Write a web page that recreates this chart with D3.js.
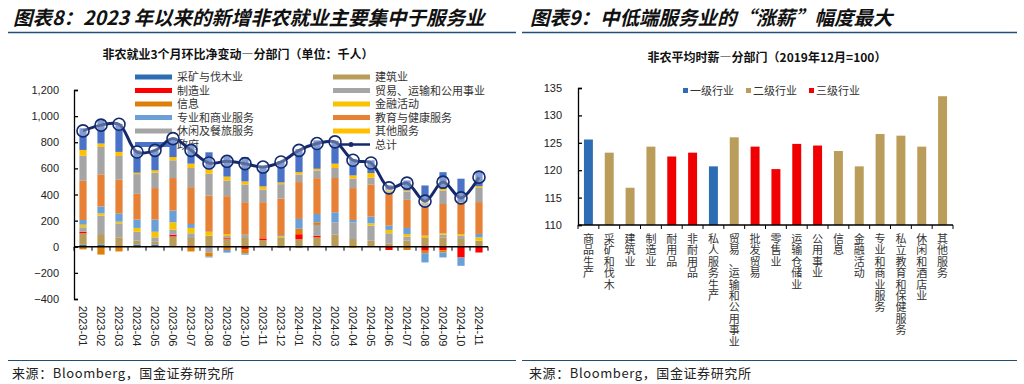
<!DOCTYPE html>
<html lang="zh">
<head>
<meta charset="utf-8">
<style>
body { margin: 0; background: #fff; }
svg { display: block; font-family: "Noto Sans CJK SC", "Liberation Sans", sans-serif; }
.num { font-family: "Liberation Sans", Arial, sans-serif; font-size: 11px; fill: #222; }
.head { font-size: 19.5px; font-weight: bold; font-style: italic; fill: #111; }
.ctitle { font-size: 12px; font-weight: bold; fill: #111; }
.leg { font-size: 11px; fill: #333; }
.cat { font-size: 11px; fill: #333; }
.src { font-size: 13px; fill: #222; letter-spacing: 0.6px; }
</style>
</head>
<body>
<svg id="chart" width="1024" height="384"></svg>
<script src="https://cdn.jsdelivr.net/npm/d3@7/dist/d3.min.js"></script>
<script>

// ---- left chart data: 3-month net change, thousands ----
var months = ["2023-01","2023-02","2023-03","2023-04","2023-05","2023-06","2023-07","2023-08",
  "2023-09","2023-10","2023-11","2023-12","2024-01","2024-02","2024-03","2024-04","2024-05",
  "2024-06","2024-07","2024-08","2024-09","2024-10","2024-11"];
var mining        = [15,15,0,15,15,0,0,0,0,0,0,0,0,0,0,0,0,0,0,0,0,0,0];
var construction  = [88,82,72,31,23,79,67,85,62,67,51,67,58,72,92,59,46,26,46,72,72,59,46];
var manufacturing = [12,0,0,0,0,13,0,0,8,-18,13,0,38,13,0,0,0,-25,0,-30,-26,-82,-44];
var trade         = [34,141,107,69,34,39,36,-45,12,25,0,-10,-10,82,95,128,116,77,31,0,20,25,0];
var information   = [-20,-60,-36,-5,0,0,-36,-30,-25,-33,0,0,42,20,0,0,0,0,-25,-20,-18,0,0];
var financial     = [20,18,13,29,43,56,41,30,15,0,0,12,0,0,0,-10,17,26,20,13,10,13,26];
var professional  = [36,52,64,64,93,90,30,-7,-20,-10,0,10,75,64,77,18,52,33,47,-70,-38,-64,26];
var eduHealth     = [300,246,257,197,241,249,282,277,290,249,277,280,282,274,262,244,246,244,215,218,225,231,244];
var leisure       = [192,210,182,151,118,136,147,167,120,136,97,110,58,59,77,72,51,20,64,38,103,0,108];
var otherServ     = [44,26,31,11,18,25,33,33,30,23,24,13,18,13,33,25,36,10,8,13,13,13,13];
var government    = [166,184,215,171,153,140,141,131,160,187,148,164,177,218,175,126,98,35,77,115,128,180,110];
var total         = [887,931,938,725,738,828,738,641,654,636,610,649,738,790,803,662,641,451,487,349,495,374,533];
var yTicksLeft = [-400,-200,0,200,400,600,800,1000,1200];

// ---- right chart data: avg hourly earnings index (2019-12 = 100) ----
var sectors = ["商品生产","采矿和伐木","建筑业","制造业","耐用品","非耐用品","私人服务生产",
  "贸易、运输和公用事业","批发贸易","零售业","运输仓储业","公用事业","信息","金融活动",
  "专业和商业服务","私立教育和保健服务","休闲和酒店业","其他服务"];
var wageIndex = [125.6,123.2,116.8,124.3,122.5,123.2,120.7,126.0,124.3,120.2,124.8,124.5,123.5,120.7,126.6,126.3,124.3,133.5];
var sectorLevel = [1,2,2,2,3,3,1,2,3,3,3,3,2,2,2,2,2,2];
var levelNames = ["一级行业","二级行业","三级行业"];
var yTicksRight = [110,115,120,125,130,135];

var series = [
  {key: "mining", name: "采矿与伐木业", color: "#2e6db4", values: mining},
  {key: "construction", name: "建筑业", color: "#b99b5a", values: construction},
  {key: "manufacturing", name: "制造业", color: "#ff0000", values: manufacturing},
  {key: "trade", name: "贸易、运输和公用事业", color: "#a6a6a6", values: trade},
  {key: "information", name: "信息", color: "#de7f0c", values: information},
  {key: "financial", name: "金融活动", color: "#f7c300", values: financial},
  {key: "professional", name: "专业和商业服务", color: "#6a9fd8", values: professional},
  {key: "eduHealth", name: "教育与健康服务", color: "#e68136", values: eduHealth},
  {key: "leisure", name: "休闲及餐旅服务", color: "#a5a5a5", values: leisure},
  {key: "otherServ", name: "其他服务", color: "#ffc000", values: otherServ},
  {key: "government", name: "政府", color: "#4a72c6", values: government}
];
var lineColor = "#142a6c";
var levelColors = ["#2e6db4", "#ba9d5b", "#f00000"];

var svg = d3.select("#chart");

// ---- page frame: headers, rules, sources ----
svg.append("text").attr("class", "head").attr("x", 13).attr("y", 25)
  .text("图表8：2023 年以来的新增非农就业主要集中于服务业");
svg.append("text").attr("class", "head").attr("x", 530).attr("y", 25)
  .text("图表9：中低端服务业的“涨薪”幅度最大");
[[8, 516], [522, 1017]].forEach(function(r) {
  svg.append("line").attr("x1", r[0]).attr("x2", r[1]).attr("y1", 32.5).attr("y2", 32.5)
    .attr("stroke", "#1f4e79").attr("stroke-width", 1.6);
  svg.append("line").attr("x1", r[0]).attr("x2", r[1]).attr("y1", 360.5).attr("y2", 360.5)
    .attr("stroke", "#1f4e79").attr("stroke-width", 1.2);
});
svg.append("text").attr("class", "src").attr("x", 12).attr("y", 378).text("来源：Bloomberg，国金证券研究所");
svg.append("text").attr("class", "src").attr("x", 529).attr("y", 378).text("来源：Bloomberg，国金证券研究所");

// ================= left chart =================
function drawLeft() {
  var g = svg.append("g");
  var x = d3.scaleBand().domain(months).range([74, 488]).paddingInner(0.6).paddingOuter(0.3);
  var y = d3.scaleLinear().domain([-400, 1200]).range([299, 90]);

  g.append("text").attr("class", "ctitle").attr("x", 238).attr("y", 59)
    .attr("text-anchor", "middle").text("非农就业3个月环比净变动—分部门（单位：千人）");

  // legend sits under the bars
  var leftCol = ["mining", "manufacturing", "information", "professional", "leisure", "government"];
  var rightCol = ["construction", "trade", "financial", "eduHealth", "otherServ"];
  var lg = g.append("g");
  function legendRow(s, lx, ly) {
    lg.append("rect").attr("x", lx).attr("y", ly - 2.5).attr("width", 37).attr("height", 5).attr("fill", s.color);
    lg.append("text").attr("class", "leg").attr("x", lx + 42).attr("y", ly + 4).text(s.name);
  }
  leftCol.forEach(function(k, i) {
    legendRow(series.find(function(s) { return s.key === k; }), 135, 77 + i * 13.5);
  });
  rightCol.forEach(function(k, i) {
    legendRow(series.find(function(s) { return s.key === k; }), 333, 77 + i * 13.5);
  });
  lg.append("line").attr("x1", 333).attr("x2", 370).attr("y1", 144.5).attr("y2", 144.5)
    .attr("stroke", lineColor).attr("stroke-width", 2.5);
  lg.append("circle").attr("cx", 351).attr("cy", 144.5).attr("r", 2.5).attr("fill", lineColor);
  lg.append("text").attr("class", "leg").attr("x", 375).attr("y", 148.5).text("总计");

  // stacked bars
  var rows = months.map(function(m, i) {
    var r = {month: m};
    series.forEach(function(s) { r[s.key] = s.values[i]; });
    return r;
  });
  var stack = d3.stack().keys(series.map(function(s) { return s.key; }))
    .offset(d3.stackOffsetDiverging)(rows);

  g.append("g").selectAll("g").data(stack).join("g")
    .attr("fill", function(d, i) { return series[i].color; })
    .selectAll("rect").data(function(d) { return d; }).join("rect")
    .attr("x", function(d) { return x(d.data.month); })
    .attr("width", x.bandwidth())
    .attr("y", function(d) { return y(Math.max(d[0], d[1])); })
    .attr("height", function(d) { return Math.abs(y(d[0]) - y(d[1])); });

  // axes
  var yAxis = d3.axisLeft(y).tickValues(yTicksLeft).tickFormat(d3.format(","))
    .tickSizeInner(-4).tickSizeOuter(-4).tickPadding(15);
  var ya = g.append("g").attr("transform", "translate(74,0)").call(yAxis);
  ya.selectAll("text").attr("class", "num");
  ya.selectAll("path,line").attr("stroke", "#000").attr("stroke-width", 1.3);

  var y0 = y(0);
  g.append("line").attr("x1", 74).attr("x2", 488).attr("y1", y0).attr("y2", y0)
    .attr("stroke", "#000").attr("stroke-width", 1.3);
  var step = x.step();
  g.append("g").selectAll("line").data(d3.range(months.length + 1)).join("line")
    .attr("x1", function(i) { return 74 + i * step; })
    .attr("x2", function(i) { return 74 + i * step; })
    .attr("y1", y0).attr("y2", y0 + 4).attr("stroke", "#000");

  g.append("g").selectAll("text").data(months).join("text")
    .attr("class", "num")
    .attr("transform", function(d) {
      return "translate(" + (x(d) + x.bandwidth() / 2 - 4) + ",306) rotate(90)";
    })
    .text(function(d) { return d; });

  // total line
  var cx = function(d, i) { return x(months[i]) + x.bandwidth() / 2; };
  var line = d3.line().x(cx).y(function(d) { return y(d); }).curve(d3.curveCatmullRom.alpha(0.5));
  g.append("path").datum(total).attr("d", line)
    .attr("fill", "none").attr("stroke", lineColor).attr("stroke-width", 3);
  g.append("g").selectAll("circle").data(total).join("circle")
    .attr("cx", cx).attr("cy", function(d) { return y(d); }).attr("r", 6)
    .attr("fill", "rgba(255,255,255,0.3)").attr("stroke", lineColor).attr("stroke-width", 1.6);
}

// ================= right chart =================
function drawRight() {
  var g = svg.append("g");
  var x = d3.scaleBand().domain(sectors).range([578, 953]).paddingInner(0.57).paddingOuter(0.285);
  var y = d3.scaleLinear().domain([110, 135]).range([225, 88]);

  g.append("text").attr("class", "ctitle").attr("x", 767).attr("y", 62)
    .attr("text-anchor", "middle").text("非农平均时薪—分部门（2019年12月=100）");

  // legend
  var legX = [683, 746, 809];
  levelNames.forEach(function(n, i) {
    g.append("rect").attr("x", legX[i]).attr("y", 88).attr("width", 5).attr("height", 5).attr("fill", levelColors[i]);
    g.append("text").attr("class", "leg").attr("x", legX[i] + 7).attr("y", 95).attr("fill", "#444").text(n);
  });

  g.append("g").selectAll("rect").data(wageIndex).join("rect")
    .attr("x", function(d, i) { return x(sectors[i]); })
    .attr("width", x.bandwidth())
    .attr("y", function(d) { return y(d); })
    .attr("height", function(d) { return y(110) - y(d); })
    .attr("fill", function(d, i) { return levelColors[sectorLevel[i] - 1]; });

  var yAxis = d3.axisLeft(y).tickValues(yTicksRight).tickSizeInner(-4).tickSizeOuter(-4).tickPadding(16);
  var ya = g.append("g").attr("transform", "translate(578,0)").call(yAxis);
  ya.selectAll("text").attr("class", "num");
  ya.selectAll("path,line").attr("stroke", "#000").attr("stroke-width", 1.3);

  var yb = y(110);
  g.append("line").attr("x1", 578).attr("x2", 953).attr("y1", yb).attr("y2", yb)
    .attr("stroke", "#000").attr("stroke-width", 1.3);
  var step = x.step();
  g.append("g").selectAll("line").data(d3.range(sectors.length + 1)).join("line")
    .attr("x1", function(i) { return 578 + i * step; })
    .attr("x2", function(i) { return 578 + i * step; })
    .attr("y1", yb).attr("y2", yb + 4).attr("stroke", "#000");

  // vertical category labels, one character per row
  var chars = [];
  sectors.forEach(function(s) {
    Array.from(s).forEach(function(ch, j) { chars.push({sector: s, ch: ch, row: j}); });
  });
  g.append("g").selectAll("text").data(chars).join("text")
    .attr("class", "cat").attr("text-anchor", "middle")
    .attr("x", function(d) { return x(d.sector) + x.bandwidth() / 2; })
    .attr("y", function(d) { return 243 + d.row * 11.4; })
    .text(function(d) { return d.ch; });
}

drawLeft();
drawRight();
</script>
</body>
</html>
